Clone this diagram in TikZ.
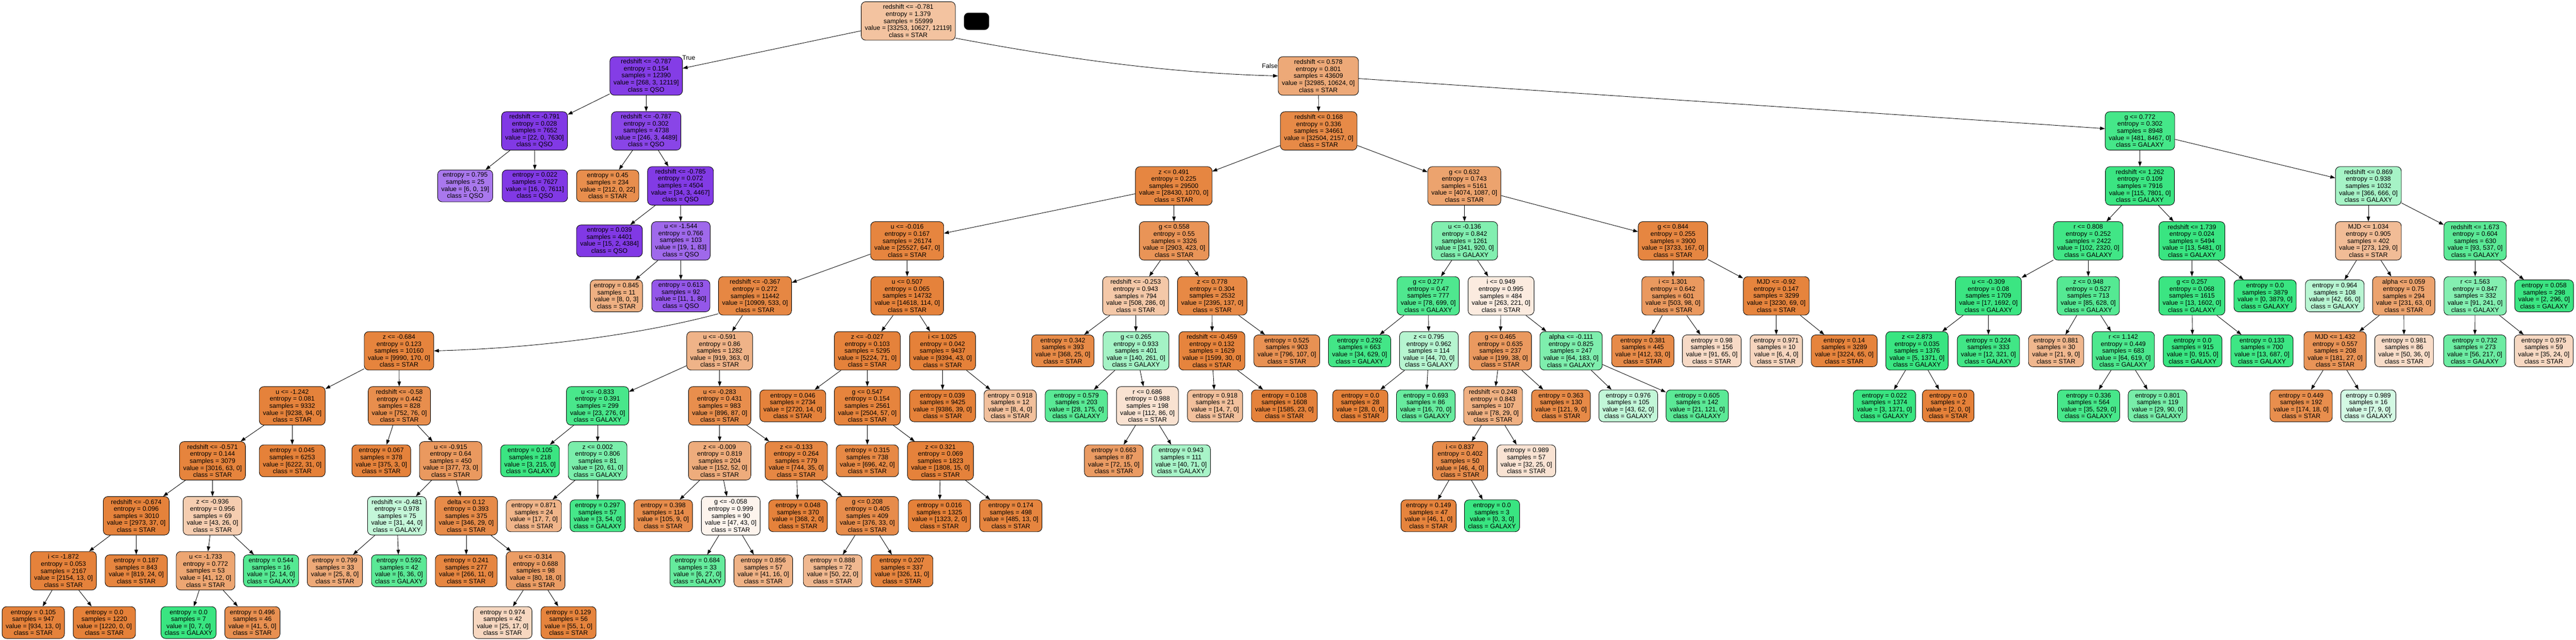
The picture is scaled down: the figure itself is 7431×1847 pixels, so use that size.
\documentclass[tikz,border=0pt]{standalone}
\usepackage{fontspec}
\setmainfont{Liberation Sans}
\usetikzlibrary{arrows.meta}
\definecolor{cs}{RGB}{229,129,57}
\definecolor{cg}{RGB}{57,229,129}
\definecolor{cq}{RGB}{129,57,229}
\tikzset{
  box/.style={draw=black, line width=1.3pt, rounded corners=13pt, align=center, inner xsep=10.5pt, inner ysep=0pt, font=\fontsize{18.6}{20.2}\selectfont},
  inn/.style={box, minimum height=111pt},
  leafn/.style={box, minimum height=92pt},
  edge/.style={-{Triangle[length=14pt,width=10pt]}, line width=1.3pt},
  lbl/.style={inner sep=0pt, font=\fontsize{18.6}{20.2}\selectfont},
  blackbox/.style={draw=black, fill=black, rounded corners=13pt, minimum width=72pt, minimum height=49pt, inner sep=0pt}
}
\newcommand\InnN[9]{\node[inn,fill=#2] (#1) at (#3,#4) {#5\\entropy = #6\\samples = #7\\value = [#8]\\class = #9};}
\newcommand\LeafN[8]{\node[leafn,fill=#2] (#1) at (#3,#4) {entropy = #5\\samples = #6\\value = [#7]\\class = #8};}
\begin{document}
\begin{tikzpicture}[x=1pt,y=-1pt]
\fill[white] (0,0) rectangle (7431,1847);
\useasboundingbox (0,0) rectangle (7431,1847);
% row 0
\InnN{n0}{cs!48}{2620}{60.5}{redshift <= -0.781}{1.379}{55999}{33253, 10627, 12119}{STAR}
\node[blackbox] (bb) at (2817,61.5) {};
% row 1
\InnN{a1}{cq!98}{1864}{219.2}{redshift <= -0.787}{0.154}{12390}{268, 3, 12119}{QSO}
\InnN{b1}{cs!68}{3803}{219.2}{redshift <= 0.578}{0.801}{43609}{32985, 10624, 0}{STAR}
% row 2
\InnN{a2a}{cq!100}{1542}{377.9}{redshift <= -0.791}{0.028}{7652}{22, 0, 7630}{QSO}
\InnN{a2b}{cq!94}{1864}{377.9}{redshift <= -0.787}{0.302}{4738}{246, 3, 4489}{QSO}
\InnN{b2a}{cs!93}{3804}{377.9}{redshift <= 0.168}{0.336}{34661}{32504, 2157, 0}{STAR}
\InnN{b2b}{cg!94}{6173}{377.9}{g <= 0.772}{0.302}{8948}{481, 8467, 0}{GALAXY}
% row 3
\LeafN{a3a}{cq!68}{1342}{536.6}{0.795}{25}{6, 0, 19}{QSO}
\LeafN{a3b}{cq!100}{1543}{536.6}{0.022}{7627}{16, 0, 7611}{QSO}
\LeafN{a3c}{cs!90}{1753}{536.6}{0.45}{234}{212, 0, 22}{STAR}
\InnN{a3d}{cq!99}{1963}{536.6}{redshift <= -0.785}{0.072}{4504}{34, 3, 4467}{QSO}
\InnN{b3a}{cs!96}{3386}{536.6}{z <= 0.491}{0.225}{29500}{28430, 1070, 0}{STAR}
\InnN{b3b}{cs!73}{4224}{536.6}{g <= 0.632}{0.743}{5161}{4074, 1087, 0}{STAR}
\InnN{b3c}{cg!99}{6173}{536.6}{redshift <= 1.262}{0.109}{7916}{115, 7801, 0}{GALAXY}
\InnN{b3d}{cg!45}{6832}{536.6}{redshift <= 0.869}{0.938}{1032}{366, 666, 0}{GALAXY}
% row 4
\LeafN{a4a}{cq!100}{1758}{695.3}{0.039}{4401}{15, 2, 4384}{QSO}
\InnN{a4b}{cq!76}{1964}{695.3}{u <= -1.544}{0.766}{103}{19, 1, 83}{QSO}
\InnN{b4a}{cs!97}{2617}{695.3}{u <= -0.016}{0.167}{26174}{25527, 647, 0}{STAR}
\InnN{b4b}{cs!85}{3387}{695.3}{g <= 0.558}{0.55}{3326}{2903, 423, 0}{STAR}
\InnN{b4c}{cg!63}{4225}{695.3}{u <= -0.136}{0.842}{1261}{341, 920, 0}{GALAXY}
\InnN{b4d}{cs!96}{4826}{695.3}{g <= 0.844}{0.255}{3900}{3733, 167, 0}{STAR}
\InnN{b4e}{cg!96}{6024}{695.3}{r <= 0.808}{0.252}{2422}{102, 2320, 0}{GALAXY}
\InnN{b4f}{cg!100}{6323}{695.3}{redshift <= 1.739}{0.024}{5494}{13, 5481, 0}{GALAXY}
\InnN{b4g}{cs!53}{6832}{695.3}{MJD <= 1.034}{0.905}{402}{273, 129, 0}{STAR}
\InnN{b4h}{cg!83}{7140}{695.3}{redshift <= 1.673}{0.604}{630}{93, 537, 0}{GALAXY}
% row 5
\LeafN{a5a}{cs!63}{1778}{854}{0.845}{11}{8, 0, 3}{STAR}
\LeafN{a5b}{cq!85}{1964}{854}{0.613}{92}{11, 1, 80}{QSO}
\InnN{b5a}{cs!95}{2178}{854}{redshift <= -0.367}{0.272}{11442}{10909, 533, 0}{STAR}
\InnN{b5b}{cs!99}{2617}{854}{u <= 0.507}{0.065}{14732}{14618, 114, 0}{STAR}
\InnN{b5c}{cs!44}{3276}{854}{redshift <= -0.253}{0.943}{794}{508, 286, 0}{STAR}
\InnN{b5d}{cs!94}{3497}{854}{z <= 0.778}{0.304}{2532}{2395, 137, 0}{STAR}
\InnN{b5e}{cg!89}{4120}{854}{g <= 0.277}{0.47}{777}{78, 699, 0}{GALAXY}
\InnN{b5f}{cs!16}{4330}{854}{i <= 0.949}{0.995}{484}{263, 221, 0}{STAR}
\InnN{b5g}{cs!81}{4826}{854}{i <= 1.301}{0.642}{601}{503, 98, 0}{STAR}
\InnN{b5h}{cs!98}{5124}{854}{MJD <= -0.92}{0.147}{3299}{3230, 69, 0}{STAR}
\InnN{b5i}{cg!99}{5736}{854}{u <= -0.309}{0.08}{1709}{17, 1692, 0}{GALAXY}
\InnN{b5j}{cg!86}{6024}{854}{z <= 0.948}{0.527}{713}{85, 628, 0}{GALAXY}
\InnN{b5k}{cg!99}{6323}{854}{g <= 0.257}{0.068}{1615}{13, 1602, 0}{GALAXY}
\LeafN{b5l}{cg!100}{6534}{854}{0.0}{3879}{0, 3879, 0}{GALAXY}
\LeafN{b5m}{cg!36}{6735}{854}{0.964}{108}{42, 66, 0}{GALAXY}
\InnN{b5n}{cs!73}{6934}{854}{alpha <= 0.059}{0.75}{294}{231, 63, 0}{STAR}
\InnN{b5o}{cg!62}{7140}{854}{r <= 1.563}{0.847}{332}{91, 241, 0}{GALAXY}
\LeafN{b5p}{cg!99}{7339}{854}{0.058}{298}{2, 296, 0}{GALAXY}
% row 6
\InnN{c6a}{cs!98}{1151}{1012.7}{z <= -0.684}{0.123}{10160}{9990, 170, 0}{STAR}
\InnN{c6b}{cs!60}{2076}{1012.7}{u <= -0.591}{0.86}{1282}{919, 363, 0}{STAR}
\InnN{c6c}{cs!99}{2502}{1012.7}{z <= -0.027}{0.103}{5295}{5224, 71, 0}{STAR}
\InnN{c6d}{cs!100}{2719}{1012.7}{i <= 1.025}{0.042}{9437}{9394, 43, 0}{STAR}
\LeafN{c6e}{cs!93}{3066}{1012.7}{0.342}{393}{368, 25, 0}{STAR}
\InnN{c6f}{cg!46}{3277}{1012.7}{g <= 0.265}{0.933}{401}{140, 261, 0}{GALAXY}
\InnN{c6g}{cs!98}{3496}{1012.7}{redshift <= -0.459}{0.132}{1629}{1599, 30, 0}{STAR}
\LeafN{c6h}{cs!87}{3712}{1012.7}{0.525}{903}{796, 107, 0}{STAR}
\LeafN{c6i}{cg!95}{3922}{1012.7}{0.292}{663}{34, 629, 0}{GALAXY}
\InnN{c6j}{cg!37}{4122}{1012.7}{z <= 0.795}{0.962}{114}{44, 70, 0}{GALAXY}
\InnN{c6k}{cs!81}{4328}{1012.7}{g <= 0.465}{0.635}{237}{199, 38, 0}{STAR}
\InnN{c6l}{cg!65}{4532}{1012.7}{alpha <= -0.111}{0.825}{247}{64, 183, 0}{GALAXY}
\LeafN{c6m}{cs!92}{4739}{1012.7}{0.381}{445}{412, 33, 0}{STAR}
\LeafN{c6n}{cs!29}{4938}{1012.7}{0.98}{156}{91, 65, 0}{STAR}
\LeafN{c6o}{cs!33}{5124}{1012.7}{0.971}{10}{6, 4, 0}{STAR}
\LeafN{c6p}{cs!98}{5320}{1012.7}{0.14}{3289}{3224, 65, 0}{STAR}
\InnN{c6q}{cg!100}{5530}{1012.7}{z <= 2.873}{0.035}{1376}{5, 1371, 0}{GALAXY}
\LeafN{c6r}{cg!96}{5736}{1012.7}{0.224}{333}{12, 321, 0}{GALAXY}
\LeafN{c6s}{cs!57}{5931}{1012.7}{0.881}{30}{21, 9, 0}{STAR}
\InnN{c6t}{cg!90}{6125}{1012.7}{r <= 1.142}{0.449}{683}{64, 619, 0}{GALAXY}
\LeafN{c6u}{cg!100}{6325}{1012.7}{0.0}{915}{0, 915, 0}{GALAXY}
\LeafN{c6v}{cg!98}{6525}{1012.7}{0.133}{700}{13, 687, 0}{GALAXY}
\InnN{c6w}{cs!85}{6736}{1012.7}{MJD <= 1.432}{0.557}{208}{181, 27, 0}{STAR}
\LeafN{c6x}{cs!28}{6935}{1012.7}{0.981}{86}{50, 36, 0}{STAR}
\LeafN{c6y}{cg!74}{7139}{1012.7}{0.732}{273}{56, 217, 0}{GALAXY}
\LeafN{c6z}{cs!31}{7338}{1012.7}{0.975}{59}{35, 24, 0}{STAR}
% row 7
\InnN{d7a}{cs!99}{843}{1171.4}{u <= -1.242}{0.081}{9332}{9238, 94, 0}{STAR}
\InnN{d7b}{cs!90}{1152}{1171.4}{redshift <= -0.58}{0.442}{828}{752, 76, 0}{STAR}
\InnN{d7c}{cg!92}{1724}{1171.4}{u <= -0.833}{0.391}{299}{23, 276, 0}{GALAXY}
\InnN{d7d}{cs!90}{2076}{1171.4}{u <= -0.283}{0.431}{983}{896, 87, 0}{STAR}
\LeafN{d7e}{cs!99}{2287}{1171.4}{0.046}{2734}{2720, 14, 0}{STAR}
\InnN{d7f}{cs!98}{2502}{1171.4}{g <= 0.547}{0.154}{2561}{2504, 57, 0}{STAR}
\LeafN{d7g}{cs!100}{2719}{1171.4}{0.039}{9425}{9386, 39, 0}{STAR}
\LeafN{d7h}{cs!50}{2914}{1171.4}{0.918}{12}{8, 4, 0}{STAR}
\LeafN{d7i}{cg!84}{3105}{1171.4}{0.579}{203}{28, 175, 0}{GALAXY}
\InnN{d7j}{cs!23}{3310}{1171.4}{r <= 0.686}{0.988}{198}{112, 86, 0}{STAR}
\LeafN{d7k}{cs!50}{3505}{1171.4}{0.918}{21}{14, 7, 0}{STAR}
\LeafN{d7l}{cs!99}{3705}{1171.4}{0.108}{1608}{1585, 23, 0}{STAR}
\LeafN{d7m}{cs!100}{3924}{1171.4}{0.0}{28}{28, 0, 0}{STAR}
\LeafN{d7n}{cg!77}{4113}{1171.4}{0.693}{86}{16, 70, 0}{GALAXY}
\InnN{d7o}{cs!63}{4307}{1171.4}{redshift <= 0.248}{0.843}{107}{78, 29, 0}{STAR}
\LeafN{d7p}{cs!93}{4503}{1171.4}{0.363}{130}{121, 9, 0}{STAR}
\LeafN{d7q}{cg!31}{4697}{1171.4}{0.976}{105}{43, 62, 0}{GALAXY}
\LeafN{d7r}{cg!83}{4896}{1171.4}{0.605}{142}{21, 121, 0}{GALAXY}
\LeafN{d7s}{cg!100}{5436}{1171.4}{0.022}{1374}{3, 1371, 0}{GALAXY}
\LeafN{d7t}{cs!100}{5620}{1171.4}{0.0}{2}{2, 0, 0}{STAR}
\LeafN{d7u}{cg!93}{6025}{1171.4}{0.336}{564}{35, 529, 0}{GALAXY}
\LeafN{d7v}{cg!68}{6224}{1171.4}{0.801}{119}{29, 90, 0}{GALAXY}
\LeafN{d7w}{cs!90}{6638}{1171.4}{0.449}{192}{174, 18, 0}{STAR}
\LeafN{d7x}{cg!22}{6832}{1171.4}{0.989}{16}{7, 9, 0}{GALAXY}
% row 8
\InnN{e8a}{cs!98}{613}{1330.1}{redshift <= -0.571}{0.144}{3079}{3016, 63, 0}{STAR}
\LeafN{e8b}{cs!100}{843}{1330.1}{0.045}{6253}{6222, 31, 0}{STAR}
\LeafN{e8c}{cs!99}{1100}{1330.1}{0.067}{378}{375, 3, 0}{STAR}
\InnN{e8d}{cs!81}{1300}{1330.1}{u <= -0.915}{0.64}{450}{377, 73, 0}{STAR}
\LeafN{e8e}{cg!99}{1529}{1330.1}{0.105}{218}{3, 215, 0}{GALAXY}
\InnN{e8f}{cg!67}{1724}{1330.1}{z <= 0.002}{0.806}{81}{20, 61, 0}{GALAXY}
\InnN{e8g}{cs!66}{2076}{1330.1}{z <= -0.009}{0.819}{204}{152, 52, 0}{STAR}
\InnN{e8h}{cs!95}{2297}{1330.1}{z <= -0.133}{0.264}{779}{744, 35, 0}{STAR}
\LeafN{e8i}{cs!94}{2502}{1330.1}{0.315}{738}{696, 42, 0}{STAR}
\InnN{e8j}{cs!99}{2713}{1330.1}{z <= 0.321}{0.069}{1823}{1808, 15, 0}{STAR}
\LeafN{e8k}{cs!79}{3213}{1330.1}{0.663}{87}{72, 15, 0}{STAR}
\LeafN{e8l}{cg!44}{3407}{1330.1}{0.943}{111}{40, 71, 0}{GALAXY}
\InnN{e8m}{cs!91}{4212}{1330.1}{i <= 0.837}{0.402}{50}{46, 4, 0}{STAR}
\LeafN{e8n}{cs!22}{4403}{1330.1}{0.989}{57}{32, 25, 0}{STAR}
% row 9
\InnN{f9a}{cs!99}{393}{1488.8}{redshift <= -0.674}{0.096}{3010}{2973, 37, 0}{STAR}
\InnN{f9b}{cs!40}{613}{1488.8}{z <= -0.936}{0.956}{69}{43, 26, 0}{STAR}
\InnN{f9c}{cg!30}{1145}{1488.8}{redshift <= -0.481}{0.978}{75}{31, 44, 0}{GALAXY}
\InnN{f9d}{cs!92}{1345}{1488.8}{delta <= 0.12}{0.393}{375}{346, 29, 0}{STAR}
\LeafN{f9e}{cs!59}{1540}{1488.8}{0.871}{24}{17, 7, 0}{STAR}
\LeafN{f9f}{cg!94}{1724}{1488.8}{0.297}{57}{3, 54, 0}{GALAXY}
\LeafN{f9g}{cs!91}{1913}{1488.8}{0.398}{114}{105, 9, 0}{STAR}
\InnN{f9h}{cs!9}{2108}{1488.8}{g <= -0.058}{0.999}{90}{47, 43, 0}{STAR}
\LeafN{f9i}{cs!99}{2302}{1488.8}{0.048}{370}{368, 2, 0}{STAR}
\InnN{f9j}{cs!91}{2502}{1488.8}{g <= 0.208}{0.405}{409}{376, 33, 0}{STAR}
\LeafN{f9k}{cs!100}{2710}{1488.8}{0.016}{1325}{1323, 2, 0}{STAR}
\LeafN{f9l}{cs!97}{2916}{1488.8}{0.174}{498}{485, 13, 0}{STAR}
\LeafN{f9m}{cs!98}{4121}{1488.8}{0.149}{47}{46, 1, 0}{STAR}
\LeafN{f9n}{cg!100}{4304}{1488.8}{0.0}{3}{0, 3, 0}{GALAXY}
% row 10
\InnN{g10a}{cs!99}{183}{1647.5}{i <= -1.872}{0.053}{2167}{2154, 13, 0}{STAR}
\LeafN{g10b}{cs!97}{393}{1647.5}{0.187}{843}{819, 24, 0}{STAR}
\InnN{g10c}{cs!71}{593}{1647.5}{u <= -1.733}{0.772}{53}{41, 12, 0}{STAR}
\LeafN{g10d}{cg!86}{782}{1647.5}{0.544}{16}{2, 14, 0}{GALAXY}
\LeafN{g10e}{cs!68}{966}{1647.5}{0.799}{33}{25, 8, 0}{STAR}
\LeafN{g10f}{cg!83}{1151}{1647.5}{0.592}{42}{6, 36, 0}{GALAXY}
\LeafN{g10g}{cs!96}{1345}{1647.5}{0.241}{277}{266, 11, 0}{STAR}
\InnN{g10h}{cs!78}{1545}{1647.5}{u <= -0.314}{0.688}{98}{80, 18, 0}{STAR}
\LeafN{g10i}{cg!78}{2012}{1647.5}{0.684}{33}{6, 27, 0}{GALAXY}
\LeafN{g10j}{cs!61}{2202}{1647.5}{0.856}{57}{41, 16, 0}{STAR}
\LeafN{g10k}{cs!56}{2402}{1647.5}{0.888}{72}{50, 22, 0}{STAR}
\LeafN{g10l}{cs!97}{2602}{1647.5}{0.207}{337}{326, 11, 0}{STAR}
% row 11
\LeafN{h11a}{cs!99}{96}{1797}{0.105}{947}{934, 13, 0}{STAR}
\LeafN{h11b}{cs!100}{301}{1797}{0.0}{1220}{1220, 0, 0}{STAR}
\LeafN{h11c}{cg!100}{544}{1797}{0.0}{7}{0, 7, 0}{GALAXY}
\LeafN{h11d}{cs!88}{728}{1797}{0.496}{46}{41, 5, 0}{STAR}
\LeafN{h11e}{cs!32}{1450}{1797}{0.974}{42}{25, 17, 0}{STAR}
\LeafN{h11f}{cs!98}{1640}{1797}{0.129}{56}{55, 1, 0}{STAR}
% labels
\node[lbl] (ltrue) at (1987,167) {True};
\node[lbl] (lfalse) at (3663,191) {False};
% edges
\foreach \p/\c in {n0/a1, a1/a2a, a1/a2b, a2a/a3a, a2a/a3b, a2b/a3c, a2b/a3d, a3d/a4a, a3d/a4b, a4b/a5a, a4b/a5b,
 b1/b2a, b1/b2b, b2a/b3a, b2a/b3b, b3a/b4a, b3a/b4b, b4a/b5a, b4a/b5b,
 b5a/c6b, c6a/d7a, c6a/d7b, d7a/e8a, d7a/e8b, e8a/f9a, e8a/f9b, f9a/g10a, f9a/g10b, g10a/h11a, g10a/h11b, f9b/g10c, f9b/g10d, g10c/h11c, g10c/h11d,
 d7b/e8c, d7b/e8d, e8d/f9c, e8d/f9d, f9c/g10e, f9c/g10f, f9d/g10g, f9d/g10h, g10h/h11e, g10h/h11f,
 c6b/d7c, c6b/d7d, d7c/e8e, d7c/e8f, e8f/f9e, e8f/f9f, d7d/e8g, d7d/e8h, e8g/f9g, e8g/f9h, f9h/g10i, f9h/g10j, e8h/f9i, e8h/f9j, f9j/g10k, f9j/g10l,
 b5b/c6c, b5b/c6d, c6c/d7e, c6c/d7f, d7f/e8i, d7f/e8j, e8j/f9k, e8j/f9l, c6d/d7g, c6d/d7h,
 b4b/b5c, b4b/b5d, b5c/c6e, b5c/c6f, c6f/d7i, c6f/d7j, d7j/e8k, d7j/e8l, b5d/c6g, b5d/c6h, c6g/d7k, c6g/d7l,
 b3b/b4c, b3b/b4d, b4c/b5e, b4c/b5f, b5e/c6i, b5e/c6j, c6j/d7m, c6j/d7n, b5f/c6k, b5f/c6l, c6k/d7o, c6k/d7p, d7o/e8m, d7o/e8n, e8m/f9m, e8m/f9n, c6l/d7q, c6l/d7r,
 b4d/b5g, b4d/b5h, b5g/c6m, b5g/c6n, b5h/c6o, b5h/c6p,
 b2b/b3c, b2b/b3d, b3c/b4e, b3c/b4f, b4e/b5i, b4e/b5j, b5i/c6q, b5i/c6r, c6q/d7s, c6q/d7t, b5j/c6s, b5j/c6t, c6t/d7u, c6t/d7v, b4f/b5k, b4f/b5l, b5k/c6u, b5k/c6v,
 b3d/b4g, b3d/b4h, b4g/b5m, b4g/b5n, b5n/c6w, b5n/c6x, c6w/d7w, c6w/d7x, b4h/b5o, b4h/b5p, b5o/c6y, b5o/c6z}
  \draw[edge] (\p) -- (\c);
\draw[edge] (n0.-20) .. controls (3050,165) and (3350,210) .. (b1.west);
\draw[edge] (b5a.206) .. controls (1850,965) and (1550,1005) .. (c6a.east);
\end{tikzpicture}
\end{document}
